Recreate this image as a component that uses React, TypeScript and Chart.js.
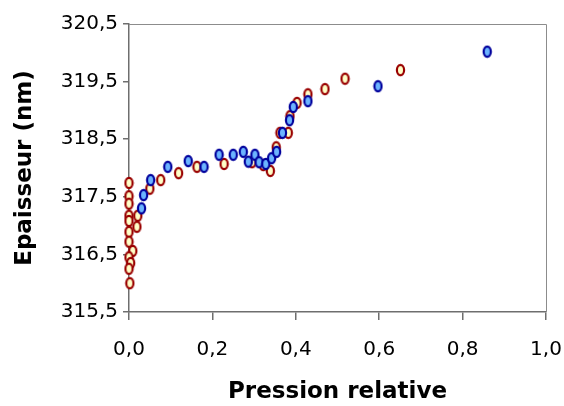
import React, { useEffect, useRef } from "react";
import { Chart, registerables } from "chart.js";

Chart.register(...registerables);

// Série rouge (adsorption)
const redX = [0.0, 0.0, 0.0, 0.0, 0.0, 0.0, 0.0, 0.009, 0.0, 0.004, 0.0, 0.002, 0.021, 0.019, 0.05, 0.076, 0.119, 0.163, 0.228, 0.295, 0.322, 0.339, 0.353, 0.362, 0.382, 0.386, 0.403, 0.429, 0.47, 0.518, 0.651];
const redY = [317.74, 317.51, 317.38, 317.17, 317.08, 316.89, 316.72, 316.56, 316.45, 316.35, 316.25, 316.0, 317.17, 316.98, 317.64, 317.79, 317.91, 318.02, 318.07, 318.1, 318.05, 317.95, 318.36, 318.61, 318.61, 318.9, 319.13, 319.28, 319.37, 319.55, 319.7];

// Série bleue (désorption)
const blueX = [0.03, 0.035, 0.052, 0.093, 0.142, 0.18, 0.216, 0.25, 0.274, 0.286, 0.302, 0.312, 0.328, 0.342, 0.354, 0.368, 0.385, 0.394, 0.429, 0.597, 0.859];
const blueY = [317.3, 317.53, 317.79, 318.02, 318.12, 318.02, 318.23, 318.23, 318.28, 318.11, 318.23, 318.1, 318.07, 318.17, 318.28, 318.61, 318.83, 319.06, 319.16, 319.42, 320.02];

const xTitle = "Pression relative";
const yTitle = "Epaisseur (nm)";
const xMin = 0, xMax = 1, xStep = 0.2;
const yMin = 315.5, yMax = 320.5, yStep = 1;

function makeMarker(stroke: string, fill: string): HTMLCanvasElement {
  const c = document.createElement("canvas");
  c.width = 11;
  c.height = 14;
  const ctx = c.getContext("2d")!;
  ctx.beginPath();
  ctx.ellipse(5.5, 7, 3.6, 5.1, 0, 0, Math.PI * 2);
  ctx.fillStyle = fill;
  ctx.fill();
  ctx.lineWidth = 2.2;
  ctx.strokeStyle = stroke;
  ctx.stroke();
  return c;
}

const fmt = (v: number | string) => Number(v).toFixed(1).replace(".", ",");

export default function App() {
  const ref = useRef<HTMLCanvasElement>(null);
  useEffect(() => {
    const canvas = ref.current!;
    const redMarker = makeMarker("#990000", "#FFFFC8");
    const blueMarker = makeMarker("#00009C", "#6CB4FF");
    const frame = {
      id: "frame",
      afterDraw(chart: any) {
        const { ctx, chartArea: a } = chart;
        ctx.save();
        ctx.strokeStyle = "#8c8c8c";
        ctx.lineWidth = 1;
        ctx.beginPath();
        ctx.moveTo(a.left, a.top + 0.5);
        ctx.lineTo(a.right + 0.5, a.top + 0.5);
        ctx.lineTo(a.right + 0.5, a.bottom);
        ctx.stroke();
        ctx.restore();
      },
    };
    const chart = new Chart(canvas, {
      type: "scatter",
      data: {
        datasets: [
          {
            label: "bleu",
            data: blueX.map((x, i) => ({ x, y: blueY[i] })),
            pointStyle: blueMarker as any,
            pointRadius: 5,
            clip: false,
          },
          {
            label: "rouge",
            data: redX.map((x, i) => ({ x, y: redY[i] })),
            pointStyle: redMarker as any,
            pointRadius: 5,
            clip: false,
          },
        ],
      },
      options: {
        responsive: false,
        animation: false,
        devicePixelRatio: 1,
        layout: { padding: { top: 24, right: 18, left: 0, bottom: 0 } },
        plugins: { legend: { display: false }, tooltip: { enabled: false } },
        scales: {
          x: {
            type: "linear",
            min: xMin,
            max: xMax,
            border: { color: "#6e6e6e", width: 1.5 },
            grid: { drawOnChartArea: false, tickLength: 8, color: "#6e6e6e", lineWidth: 1.5 },
            ticks: {
              stepSize: xStep,
              callback: (v: any) => fmt(v),
              color: "#000",
              font: { family: "DejaVu Sans", size: 20 },
              padding: 18,
              maxRotation: 0,
            },
            title: {
              display: true,
              text: xTitle,
              color: "#000",
              font: { family: "DejaVu Sans", size: 23, weight: "bold" },
              padding: { top: 0, bottom: 0 },
            },
            afterFit: (s: any) => {
              s.height = 94;
              s.paddingLeft = 0;
              s.paddingRight = 0;
            },
          },
          y: {
            type: "linear",
            min: yMin,
            max: yMax,
            border: { color: "#6e6e6e", width: 1.5 },
            grid: { drawOnChartArea: false, tickLength: 6, color: "#6e6e6e", lineWidth: 1.5 },
            ticks: {
              stepSize: yStep,
              callback: (v: any) => fmt(v),
              color: "#000",
              font: { family: "DejaVu Sans", size: 20 },
              padding: 5,
            },
            title: {
              display: true,
              text: yTitle,
              color: "#000",
              font: { family: "DejaVu Sans", size: 23, weight: "bold" },
              padding: { top: 11, bottom: 0 },
            },
            afterFit: (s: any) => {
              s.width = 129;
              s.paddingTop = 0;
              s.paddingBottom = 0;
            },
          },
        },
      } as any,
      plugins: [frame],
    });
    return () => chart.destroy();
  }, []);
  return (
    <div style={{ position: "absolute", left: 0, top: 0, width: 564, height: 406, background: "#fff" }}>
      <canvas ref={ref} width={564} height={406} />
    </div>
  );
}
